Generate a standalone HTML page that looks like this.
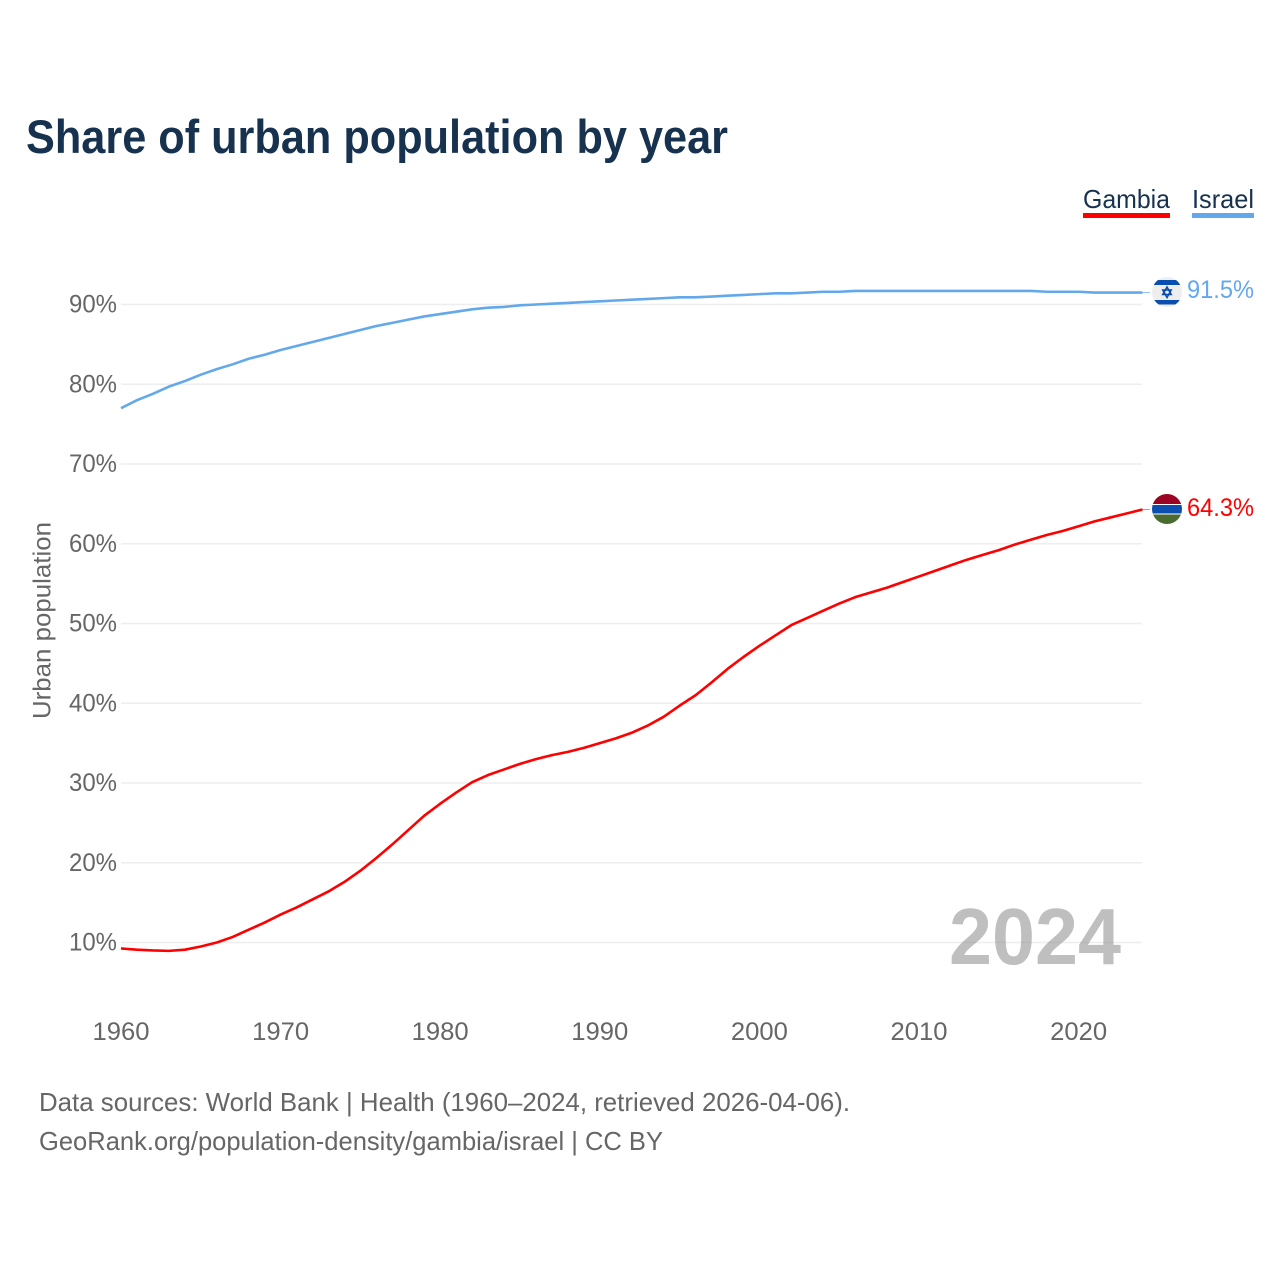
<!DOCTYPE html>
<html lang="en">
<head>
<meta charset="utf-8">
<title>Share of urban population by year</title>
<style>
html,body{margin:0;padding:0;background:#fff;}
svg{display:block;font-family:"Liberation Sans",sans-serif;}
</style>
</head>
<body>
<svg id="chart" width="1280" height="1280" viewBox="0 0 1280 1280" xmlns="http://www.w3.org/2000/svg">
  <defs>
    <clipPath id="clip-il"><circle cx="1167" cy="292" r="15"/></clipPath>
    <clipPath id="clip-gm"><circle cx="1167" cy="509" r="15"/></clipPath>
  </defs>
  <text x="26" y="153" font-size="47" font-weight="700" fill="#17324f" textLength="702" lengthAdjust="spacingAndGlyphs">Share of urban population by year</text>

  <g>
    <text x="1083" y="208" font-size="26" fill="#17324f" textLength="87" lengthAdjust="spacingAndGlyphs">Gambia</text>
    <rect x="1083" y="213" width="87" height="5" fill="#ff0000"/>
  </g>
  <g>
    <text x="1192" y="208" font-size="26" fill="#17324f" textLength="62" lengthAdjust="spacingAndGlyphs">Israel</text>
    <rect x="1192" y="213" width="62" height="5" fill="#64a8ec"/>
  </g>

  <g id="grid"></g>
  <g id="yticks"></g>
  <g id="xticks"></g>

  <text transform="translate(50.5,719) rotate(-90)" font-size="25" fill="#666666" textLength="197" lengthAdjust="spacingAndGlyphs">Urban population</text>

  <text x="949" y="964" font-size="80" font-weight="700" fill="#808080" fill-opacity="0.5" textLength="172" lengthAdjust="spacingAndGlyphs">2024</text>

  <g id="series"></g>

  <g clip-path="url(#clip-il)">
    <rect x="1152" y="277" width="30" height="30" fill="#eeeeee"/>
    <rect x="1152" y="280" width="30" height="5" fill="#0a4fb0"/>
    <rect x="1152" y="300" width="30" height="4.5" fill="#0a4fb0"/>
    <polygon points="1167,287 1171.2,294.5 1162.8,294.5" fill="none" stroke="#0a4fb0" stroke-width="1.6"/>
    <polygon points="1167,297.5 1171.2,290 1162.8,290" fill="none" stroke="#0a4fb0" stroke-width="1.6"/>
  </g>
  <g clip-path="url(#clip-gm)">
    <rect x="1152" y="494" width="30" height="30" fill="#ffffff"/>
    <rect x="1152" y="494" width="30" height="10" fill="#9b0523"/>
    <rect x="1152" y="505" width="30" height="8.5" fill="#0a4fb0"/>
    <rect x="1152" y="514.5" width="30" height="9.5" fill="#4a6b2f"/>
  </g>

  <text id="label-israel" x="1187" y="298" font-size="25" fill="#64a8ec" textLength="67" lengthAdjust="spacingAndGlyphs">91.5%</text>
  <text id="label-gambia" x="1187" y="516" font-size="25" fill="#ff0000" textLength="67" lengthAdjust="spacingAndGlyphs">64.3%</text>

  <text x="39" y="1111" font-size="26" fill="#666666" textLength="811" lengthAdjust="spacingAndGlyphs">Data sources: World Bank | Health (1960–2024, retrieved 2026-04-06).</text>
  <text x="39" y="1150" font-size="26" fill="#666666" textLength="624" lengthAdjust="spacingAndGlyphs">GeoRank.org/population-density/gambia/israel | CC BY</text>
</svg>
<script>
const startYear = 1960;
const gambiaValues = [9.25,9.1,9.0,8.95,9.1,9.5,10.0,10.7,11.6,12.5,13.5,14.4,15.4,16.4,17.6,19.0,20.6,22.3,24.1,25.9,27.4,28.8,30.1,31.0,31.7,32.4,33.0,33.5,33.9,34.4,35.0,35.6,36.3,37.2,38.3,39.7,41.0,42.6,44.3,45.8,47.2,48.5,49.8,50.7,51.6,52.5,53.3,53.9,54.5,55.2,55.9,56.6,57.3,58.0,58.6,59.2,59.9,60.5,61.1,61.6,62.2,62.8,63.3,63.8,64.3];
const israelValues = [77.0,78.0,78.8,79.7,80.4,81.2,81.9,82.5,83.2,83.7,84.3,84.8,85.3,85.8,86.3,86.8,87.3,87.7,88.1,88.5,88.8,89.1,89.4,89.6,89.7,89.9,90.0,90.1,90.2,90.3,90.4,90.5,90.6,90.7,90.8,90.9,90.9,91.0,91.1,91.2,91.3,91.4,91.4,91.5,91.6,91.6,91.7,91.7,91.7,91.7,91.7,91.7,91.7,91.7,91.7,91.7,91.7,91.7,91.6,91.6,91.6,91.5,91.5,91.5,91.5];
const yTickValues = [10,20,30,40,50,60,70,80,90];
const yTickLabels = ["10%","20%","30%","40%","50%","60%","70%","80%","90%"];
const xTickValues = [1960,1970,1980,1990,2000,2010,2020];
const xTickLabels = ["1960","1970","1980","1990","2000","2010","2020"];

const NS = 'http://www.w3.org/2000/svg';
function xScale(year){ return 121 + (year - 1960) * 15.96; }
function yScale(v){ return 942.5 - (v - 10) * 7.975; }
function linePath(values){
  return values.map(function(v,i){
    return (i ? 'L' : 'M') + xScale(startYear + i).toFixed(2) + ' ' + yScale(v).toFixed(2);
  }).join(' ');
}

const grid = document.getElementById('grid');
const yticks = document.getElementById('yticks');
const xticks = document.getElementById('xticks');
const series = document.getElementById('series');

yTickValues.forEach(function(v,i){
  const line = document.createElementNS(NS,'line');
  
  
  line.setAttribute('x1', 121);
  line.setAttribute('x2', 1142);
  line.setAttribute('y1', yScale(v));
  line.setAttribute('y2', yScale(v));
  line.setAttribute('stroke', '#eeeeee');
  line.setAttribute('stroke-width', '1.5');
  grid.appendChild(line);

  const t = document.createElementNS(NS,'text');
  
  
  t.setAttribute('x', 69);
  t.setAttribute('y', yScale(v) + 8);
  t.setAttribute('font-size', '25');
  t.setAttribute('fill', '#666666');
  t.setAttribute('textLength', '48');
  t.setAttribute('lengthAdjust', 'spacingAndGlyphs');
  t.textContent = yTickLabels[i];
  yticks.appendChild(t);
});

xTickValues.forEach(function(v,i){
  const t = document.createElementNS(NS,'text');
  
  
  t.setAttribute('x', xScale(v) - 28.5);
  t.setAttribute('y', 1040);
  t.setAttribute('font-size', '25');
  t.setAttribute('fill', '#666666');
  t.setAttribute('textLength', '57');
  t.setAttribute('lengthAdjust', 'spacingAndGlyphs');
  t.textContent = xTickLabels[i];
  xticks.appendChild(t);
});

const israelLine = document.createElementNS(NS,'path');


israelLine.setAttribute('d', linePath(israelValues));
israelLine.setAttribute('fill', 'none');
israelLine.setAttribute('stroke', '#64a8ec');
israelLine.setAttribute('stroke-width', '2.6');
israelLine.setAttribute('stroke-linejoin', 'round');
series.appendChild(israelLine);

const gambiaLine = document.createElementNS(NS,'path');


gambiaLine.setAttribute('d', linePath(gambiaValues));
gambiaLine.setAttribute('fill', 'none');
gambiaLine.setAttribute('stroke', '#ff0000');
gambiaLine.setAttribute('stroke-width', '2.6');
gambiaLine.setAttribute('stroke-linejoin', 'round');
series.appendChild(gambiaLine);

const lastIndex = gambiaValues.length - 1;
const israelLead = document.createElementNS(NS,'line');


israelLead.setAttribute('x1', xScale(startYear + lastIndex));
israelLead.setAttribute('x2', 1150);
israelLead.setAttribute('y1', yScale(israelValues[lastIndex]));
israelLead.setAttribute('y2', yScale(israelValues[lastIndex]));
israelLead.setAttribute('stroke', '#64a8ec');
israelLead.setAttribute('stroke-width', '1');
israelLead.setAttribute('stroke-opacity', '0.7');
series.appendChild(israelLead);

const gambiaLead = document.createElementNS(NS,'line');


gambiaLead.setAttribute('x1', xScale(startYear + lastIndex));
gambiaLead.setAttribute('x2', 1150);
gambiaLead.setAttribute('y1', yScale(gambiaValues[lastIndex]));
gambiaLead.setAttribute('y2', yScale(gambiaValues[lastIndex]));
gambiaLead.setAttribute('stroke', '#ff0000');
gambiaLead.setAttribute('stroke-width', '1');
gambiaLead.setAttribute('stroke-opacity', '0.5');
series.appendChild(gambiaLead);

document.getElementById('label-israel').textContent = israelValues[lastIndex].toFixed(1) + '%';
document.getElementById('label-gambia').textContent = gambiaValues[lastIndex].toFixed(1) + '%';
</script>
</body>
</html>
